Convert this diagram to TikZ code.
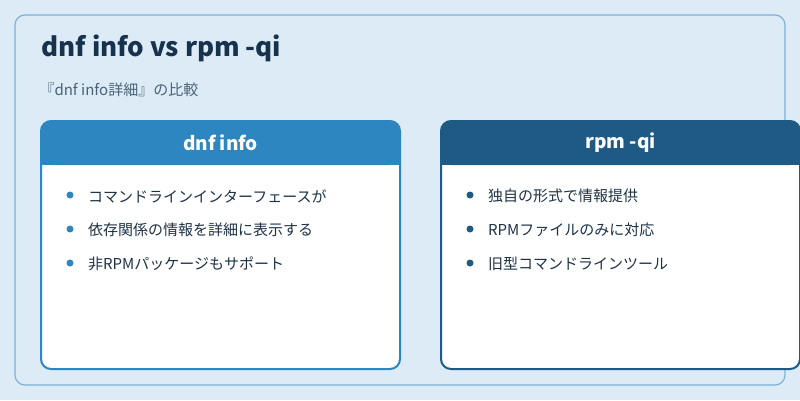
\documentclass[tikz,border=0pt]{standalone}
\usepackage{fontspec}
\setmainfont{Noto Sans CJK JP}
\definecolor{bg}{HTML}{DCEBF6}
\definecolor{frame}{HTML}{7FB3D5}
\definecolor{ttl}{HTML}{17324D}
\definecolor{sub}{HTML}{4A6378}
\definecolor{lhead}{HTML}{2E86C1}
\definecolor{rhead}{HTML}{1F5A85}
\definecolor{txt}{HTML}{1E3246}
\begin{document}
\begin{tikzpicture}[x=1pt,y=-1pt,
  item/.style={anchor=west,font=\fontsize{15}{18}\selectfont,text=txt,inner sep=0},
  htxt/.style={font=\fontsize{19}{22}\selectfont\bfseries,text=white}]
\useasboundingbox (0,0) rectangle (800,400);
\fill[bg] (0,0) rectangle (800,400);
\draw[frame,fill=bg,line width=1.2,rounded corners=10] (15,15) rectangle (785,385);
\node[anchor=west,font=\fontsize{26}{30}\selectfont\bfseries,text=ttl] (title) at (38,48) {dnf info vs rpm -qi};
\node[anchor=west,font=\fontsize{15}{18}\selectfont,text=sub] (subt) at (36,90) {『dnf info詳細』の比較};
% left card
\draw[lhead,fill=white,line width=2,rounded corners=10] (41,121) rectangle (400,369);
\fill[lhead,rounded corners=10] (41,121) rectangle (400,165);
\fill[lhead] (41,150) rectangle (400,165);
\node[htxt] (lh) at (220.5,143) {dnf info};
\foreach \y/\t [count=\i] in {196/コマンドラインインターフェースが,230/依存関係の情報を詳細に表示する,264/非RPMパッケージもサポート}{
  \fill[lhead] (70,\y-1) circle (3.5);
  \node[item] (l\i) at (88,\y) {\t};
}
% right card
\draw[rhead,fill=white,line width=2,rounded corners=10] (441,121) rectangle (800,369);
\fill[rhead,rounded corners=10] (441,121) rectangle (800,165);
\fill[rhead] (441,150) rectangle (800,165);
\node[htxt] (rh) at (620.5,143) {rpm -qi};
\foreach \y/\t [count=\i] in {196/独自の形式で情報提供,230/RPMファイルのみに対応,264/旧型コマンドラインツール}{
  \fill[rhead] (470,\y-1) circle (3.5);
  \node[item] (r\i) at (488,\y) {\t};
}
\end{tikzpicture}
\end{document}
